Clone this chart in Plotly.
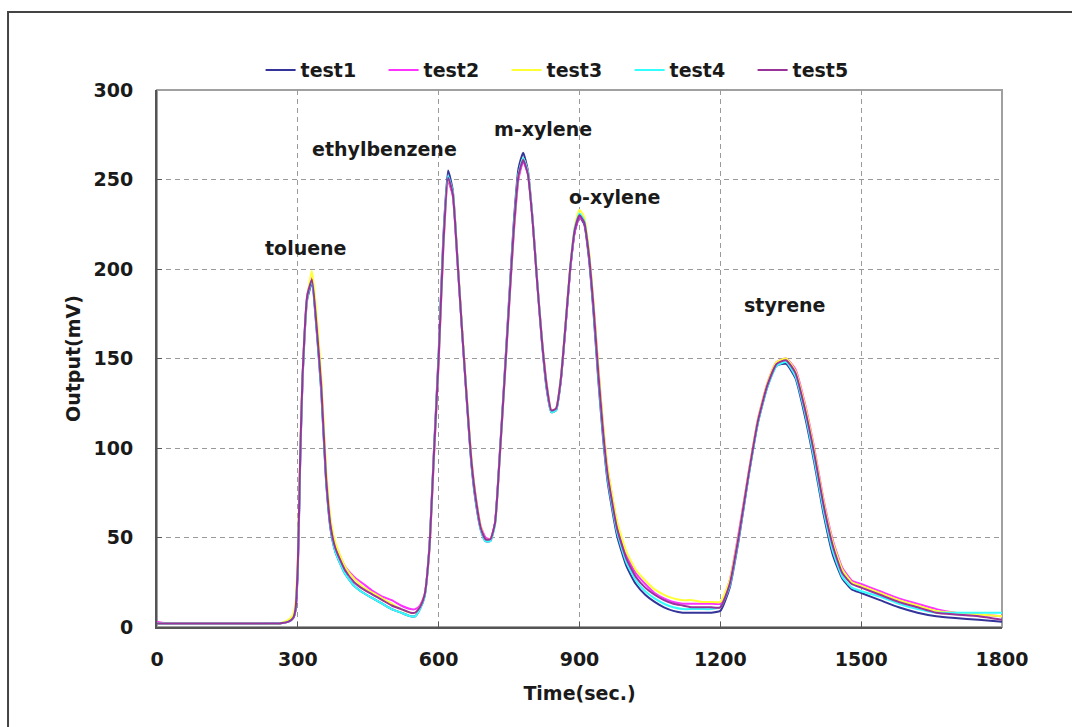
import plotly.graph_objects as go

# Sampling times (s) shared by all five runs
time_s = [0, 20, 40, 100, 200,
          260, 280, 290, 295, 300,
          305, 310, 320, 330, 340,
          350, 360, 370, 380, 400,
          420, 440, 460, 480, 500,
          520, 540, 550, 560, 570,
          580, 590, 600, 610, 620,
          630, 640, 650, 660, 670,
          680, 690, 700, 710, 720,
          730, 740, 750, 760, 770,
          780, 790, 800, 810, 820,
          830, 840, 850, 860, 870,
          880, 890, 900, 910, 920,
          930, 940, 950, 960, 980,
          1000, 1020, 1040, 1060, 1080,
          1100, 1120, 1140, 1160, 1180,
          1200, 1220, 1240, 1260, 1280,
          1300, 1320, 1340, 1360, 1380,
          1400, 1420, 1440, 1460, 1480,
          1500, 1540, 1580, 1620, 1660,
          1700, 1750, 1800]

# Detector output (mV) for each run
test1 = [2, 2, 2, 2, 2,
         2, 3, 5, 9, 32,
         92, 138, 183, 192, 166,
         131, 82, 54, 42, 30,
         23, 19, 16, 13, 10,
         8, 6, 6, 10, 17,
         44, 99, 153, 218, 255,
         244, 206, 165, 126, 90,
         68, 54, 48, 48, 58,
         96, 139, 183, 226, 256,
         265, 255, 228, 192, 159,
         133, 120, 121, 137, 167,
         199, 221, 229, 225, 206,
         175, 138, 106, 81, 51,
         34, 24, 18, 14, 11,
         9, 8, 8, 8, 8,
         9, 22, 50, 84, 114,
         134, 146, 147, 139, 118,
         92, 63, 40, 27, 21,
         19, 15, 11, 8, 6,
         5, 4, 3]

test2 = [3, 2, 2, 2, 2,
         2, 3, 5, 10, 34,
         94, 139, 185, 195, 170,
         136, 86, 58, 46, 34,
         28, 24, 20, 17, 15,
         12, 10, 10, 12, 18,
         42, 95, 148, 212, 249,
         241, 204, 165, 128, 93,
         71, 56, 50, 49, 58,
         94, 136, 179, 220, 250,
         260, 253, 228, 193, 161,
         136, 121, 122, 138, 167,
         199, 221, 229, 226, 209,
         180, 145, 113, 88, 58,
         40, 30, 24, 19, 16,
         14, 13, 13, 13, 13,
         13, 26, 54, 86, 116,
         136, 148, 150, 144, 125,
         100, 71, 48, 33, 26,
         24, 20, 16, 13, 10,
         8, 7, 6]

test3 = [2, 2, 2, 2, 2,
         2, 4, 7, 14, 40,
         98, 140, 184, 199, 175,
         140, 90, 60, 47, 34,
         27, 22, 19, 16, 13,
         10, 8, 8, 11, 18,
         42, 96, 149, 213, 250,
         243, 206, 167, 129, 94,
         71, 56, 49, 49, 57,
         94, 136, 180, 221, 252,
         262, 254, 228, 193, 161,
         136, 121, 122, 139, 169,
         201, 224, 233, 229, 211,
         181, 146, 114, 89, 59,
         42, 32, 26, 21, 18,
         16, 15, 15, 14, 14,
         14, 26, 53, 86, 116,
         136, 148, 150, 143, 124,
         99, 70, 47, 32, 25,
         23, 19, 15, 12, 9,
         8, 7, 6]

test4 = [2, 2, 2, 2, 2,
         2, 3, 5, 10, 34,
         93, 139, 184, 193, 167,
         132, 83, 55, 42, 30,
         23, 19, 16, 13, 10,
         8, 6, 6, 10, 17,
         43, 97, 151, 215, 252,
         243, 205, 165, 127, 91,
         69, 54, 48, 48, 57,
         95, 137, 181, 223, 253,
         262, 254, 228, 193, 160,
         134, 120, 121, 138, 168,
         200, 223, 231, 227, 208,
         177, 140, 108, 83, 53,
         36, 26, 20, 16, 13,
         11, 10, 10, 10, 10,
         11, 23, 51, 84, 114,
         134, 146, 148, 140, 120,
         94, 65, 42, 28, 22,
         20, 17, 13, 10, 8,
         8, 8, 8]

test5 = [2, 2, 2, 2, 2,
         2, 3, 5, 10, 35,
         95, 140, 185, 194, 168,
         134, 84, 56, 44, 32,
         25, 21, 18, 15, 12,
         10, 8, 8, 11, 18,
         43, 97, 150, 214, 251,
         242, 205, 165, 127, 92,
         70, 55, 49, 49, 58,
         95, 137, 180, 222, 252,
         261, 253, 227, 192, 160,
         135, 121, 122, 138, 168,
         200, 222, 230, 226, 208,
         178, 142, 110, 85, 55,
         38, 28, 22, 18, 15,
         13, 12, 11, 11, 11,
         11, 24, 52, 85, 115,
         135, 147, 149, 142, 122,
         97, 68, 45, 30, 24,
         22, 18, 14, 11, 8,
         7, 6, 4]

series_names = ["test1", "test2", "test3", "test4", "test5"]
series_values = [test1, test2, test3, test4, test5]
series_colors = ["#333399", "#ff33ff", "#ffff33", "#33ffff", "#993399"]

# Peak labels: compound name with its label anchor (time, mV)
peak_names = ["toluene", "ethylbenzene", "m-xylene", "o-xylene", "styrene"]
peak_label_t = [317, 485, 823, 975, 1336]
peak_label_mv = [212, 267, 278, 240, 180]

x_ticks = [0, 300, 600, 900, 1200, 1500, 1800]
y_ticks = [0, 50, 100, 150, 200, 250, 300]

FONT = "DejaVu Sans"
TEXT_COLOR = "#1a1a1a"

fig = go.Figure()
for name, vals, color in zip(series_names, series_values, series_colors):
    fig.add_trace(go.Scatter(x=time_s, y=vals, mode="lines", name=name,
                             line=dict(color=color, width=2, shape="spline", smoothing=0.5)))

for name, t, mv in zip(peak_names, peak_label_t, peak_label_mv):
    fig.add_annotation(x=t, y=mv, xref="x", yref="y", text=name, showarrow=False,
                       font=dict(family=FONT, size=19, color=TEXT_COLOR, weight="bold"))

axis_common = dict(
    showgrid=True, gridcolor="#9a9a9a", griddash="5px,4px", gridwidth=1,
    showline=True, linecolor="#555555", linewidth=2,
    ticks="inside", ticklen=5, tickcolor="#555555",
    tickfont=dict(family=FONT, size=19, color=TEXT_COLOR, weight="bold"),
    zeroline=False,
)

fig.update_xaxes(range=[0, 1800], tickvals=x_ticks, ticklabelstandoff=14,
                 title=dict(text="Time(sec.)", standoff=18,
                            font=dict(family=FONT, size=19, color=TEXT_COLOR, weight="bold")),
                 **axis_common)
fig.update_yaxes(range=[0, 300], tickvals=y_ticks, ticklabelstandoff=18,
                 title=dict(text="Output(mV)", standoff=8,
                            font=dict(family=FONT, size=19, color=TEXT_COLOR, weight="bold")),
                 **axis_common)

# plot-area border (top and right sides show lighter than the axes)
fig.add_shape(type="rect", xref="paper", yref="paper", x0=0, x1=1, y0=0, y1=1,
              line=dict(color="#a0a0a0", width=2), layer="below")
# outer frame around the whole chart
fig.add_shape(type="rect", xref="paper", yref="paper",
              x0=-0.1763, x1=1.12, y0=-0.25, y1=1.1453,
              line=dict(color="#444444", width=2), layer="above")

fig.update_layout(
    width=1072, height=727,
    margin=dict(l=157, r=70, t=90, b=100),
    paper_bgcolor="white", plot_bgcolor="white",
    showlegend=True,
    legend=dict(orientation="h", x=0.1226, xanchor="left", y=1.037, yanchor="middle",
                entrywidth=78, entrywidthmode="pixels",
                font=dict(family=FONT, size=19, color=TEXT_COLOR, weight="bold"),
                bgcolor="rgba(0,0,0,0)"),
)

fig.write_html("out.html")
